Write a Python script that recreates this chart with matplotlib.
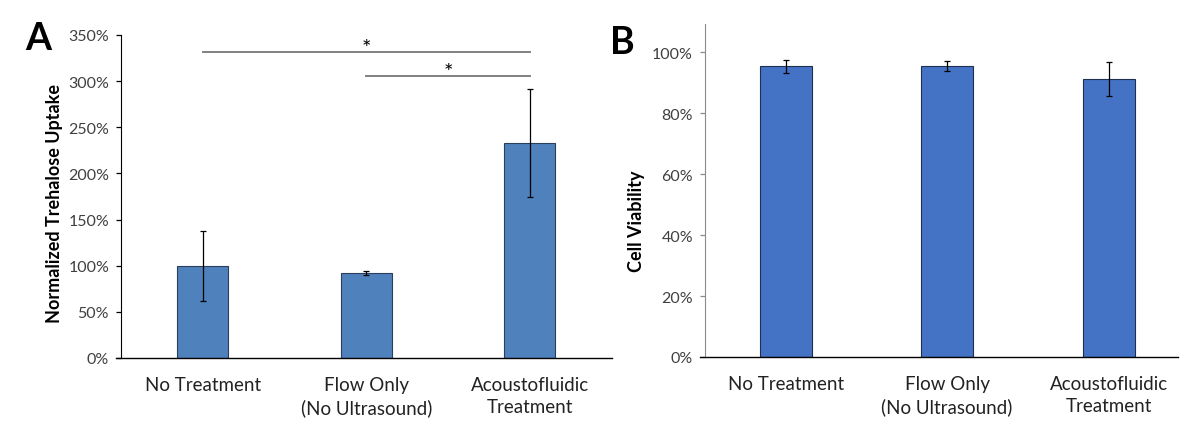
import matplotlib.pyplot as plt
import numpy as np
from matplotlib.ticker import PercentFormatter

plt.rcParams['font.family'] = ['Lato', 'DejaVu Sans']

# Data
categories = ["No Treatment", "Flow Only\n(No Ultrasound)", "Acoustofluidic\nTreatment"]
uptake = [1.00, 0.92, 2.33]
uptake_err = [0.38, 0.02, 0.59]
viability = [0.953, 0.953, 0.912]
viability_err = [0.022, 0.016, 0.056]

# significance brackets in panel A: (start, end, height)
sig_pairs = [(0, 2, 3.32), (1, 2, 3.06)]

fig = plt.figure(figsize=(11.89, 4.27), dpi=100)
x = np.arange(len(categories))
tick_grey = "#404040"

# Panel A
axA = fig.add_axes([0.1018, 0.1593, 0.4125, 0.7564])
axA.bar(x, uptake, width=0.31, color="#4F81BD", edgecolor="#2b3f5c", linewidth=0.8)
axA.errorbar(x, uptake, yerr=uptake_err, fmt="none", ecolor="black", elinewidth=0.9, capsize=2.5, capthick=0.9)
for a, b, h in sig_pairs:
    axA.plot([a, b], [h, h], color="#808080", linewidth=1.4, clip_on=False)
    axA.text((a + b) / 2, h - 0.03, "*", ha="center", va="baseline", fontsize=16, color="black")
axA.set_ylim(0, 3.5)
axA.set_xlim(-0.5, 2.5)
axA.set_yticks(np.arange(0, 3.51, 0.5))
axA.yaxis.set_major_formatter(PercentFormatter(1.0, decimals=0))
axA.set_ylabel("Normalized Trehalose Uptake", fontsize=13, fontweight="bold")
axA.yaxis.set_label_coords(-0.118, 0.48)
axA.text(-0.168, 0.99, "A", transform=axA.transAxes, fontsize=27, fontweight="bold", ha="center", va="center")
for s in ["top", "right"]:
    axA.spines[s].set_visible(False)
axA.spines["left"].set_color("black")
axA.tick_params(axis="y", direction="out", length=3.6, width=0.9, labelsize=11.5, labelcolor=tick_grey, color="black", pad=5)

# Panel B
axB = fig.add_axes([0.5929, 0.1616, 0.3978, 0.7799])
axB.bar(x, viability, width=0.32, color="#4472C4", edgecolor="#1f2f4f", linewidth=0.8)
axB.errorbar(x, viability, yerr=viability_err, fmt="none", ecolor="black", elinewidth=0.9, capsize=2.5, capthick=0.9)
axB.set_ylim(0, 1.092)
axB.set_xlim(-0.5, 2.429)
axB.set_yticks(np.arange(0, 1.01, 0.2))
axB.yaxis.set_major_formatter(PercentFormatter(1.0, decimals=0))
axB.set_ylabel("Cell Viability", fontsize=13, fontweight="bold")
axB.yaxis.set_label_coords(-0.127, 0.41)
axB.text(-0.175, 0.946, "B", transform=axB.transAxes, fontsize=27, fontweight="bold", ha="center", va="center")
for s in ["top", "right"]:
    axB.spines[s].set_visible(False)
axB.spines["left"].set_color("#8c8c8c")
axB.tick_params(axis="y", direction="out", length=3.6, width=0.9, labelsize=11.5, labelcolor=tick_grey, color="#8c8c8c", pad=5)

for ax in (axA, axB):
    ax.set_xticks(x)
    ax.set_xticklabels(categories, fontsize=13.5, color="#222222", linespacing=1.35)
    ax.tick_params(axis="x", length=0, pad=13)
    ax.spines["bottom"].set_color("black")
    ax.spines["bottom"].set_linewidth(1.0)
    ax.spines["bottom"].set_bounds(ax.get_xlim()[0] - 0.03, ax.get_xlim()[1])

fig.savefig("out.png", dpi=100)
